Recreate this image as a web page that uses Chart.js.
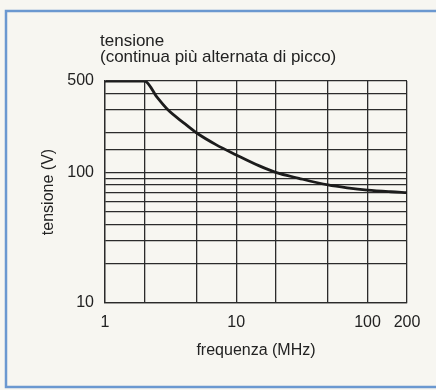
<!DOCTYPE html>
<html>
<head>
<meta charset="utf-8">
<script src="https://cdn.jsdelivr.net/npm/chart.js@4.4.1/dist/chart.umd.min.js"></script>
<style>
  html, body { margin: 0; padding: 0; background: #f7f6f1; }
  #wrap { width: 436px; height: 390px; position: relative; }
</style>
</head>
<body>
<div id="wrap"><canvas id="chart" width="436" height="390"></canvas></div>
<script>
// frequency (MHz) vs max voltage (V), log-log
const freqMHz = [1, 2, 2.5, 3, 4, 5, 7, 10, 15, 20, 30, 50, 70, 100, 150, 200];
const voltV = [500, 500, 374, 302, 238, 200, 163, 136, 112, 100, 90, 80, 76, 73, 71, 70];

const xGrid = [1, 2, 5, 10, 20, 50, 100, 200];
const xLabels = [1, 10, 100, 200];
const yLabels = [10, 100, 500];

const captionLines = ["tensione", "(continua più alternata di picco)"];

const FONT = "'Liberation Sans', Arial, Helvetica, sans-serif";
const INK = "#222";

// blue frame + two-line caption above the plot
const framePlugin = {
  id: "frame",
  beforeDraw(chart) {
    const ctx = chart.ctx;
    ctx.save();
    ctx.fillStyle = "#f7f6f1";
    ctx.fillRect(0, 0, chart.width, chart.height);
    ctx.strokeStyle = "#6b98d0";
    ctx.lineWidth = 2.5;
    ctx.beginPath();
    ctx.moveTo(436, 11);
    ctx.lineTo(6, 11);
    ctx.lineTo(6, 387);
    ctx.lineTo(436, 387);
    ctx.stroke();
    ctx.restore();
  },
  afterDraw(chart) {
    const ctx = chart.ctx;
    ctx.save();
    ctx.fillStyle = INK;
    ctx.font = "17px " + FONT;
    ctx.textBaseline = "middle";
    ctx.fillText(captionLines[0], 100, 41);
    ctx.fillText(captionLines[1], 100, 57);
    ctx.restore();
  }
};

new Chart(document.getElementById("chart"), {
  type: "line",
  data: {
    datasets: [{
      data: freqMHz.map((f, i) => ({ x: f, y: voltV[i] })),
      borderColor: "#1c1c1c",
      borderWidth: 2.8,
      pointRadius: 0,
      cubicInterpolationMode: "monotone",
      fill: false
    }]
  },
  options: {
    responsive: false,
    animation: false,
    layout: { padding: { left: 30, right: 29, top: 81, bottom: 0 } },
    plugins: { legend: { display: false }, tooltip: { enabled: false } },
    scales: {
      x: {
        type: "logarithmic",
        min: 1,
        max: 200,
        afterBuildTicks: (scale) => { scale.ticks = xGrid.map(v => ({ value: v })); },
        afterFit: (scale) => { scale.height = 87; },
        grid: { color: "#2b2b2b", lineWidth: 1.3, drawTicks: false },
        border: { color: "#2b2b2b", width: 1.3 },
        ticks: {
          autoSkip: false,
          maxRotation: 0,
          padding: 10,
          color: INK,
          font: { family: FONT, size: 16 },
          callback: (v) => xLabels.includes(v) ? String(v) : ""
        },
        title: {
          display: true,
          text: "frequenza (MHz)",
          color: INK,
          font: { family: FONT, size: 16 },
          padding: { top: 0, bottom: 30 }
        }
      },
      y: {
        type: "logarithmic",
        min: 10,
        max: 500,
        afterFit: (scale) => { scale.width = 75; },
        grid: { color: "#2b2b2b", lineWidth: 1.3, drawTicks: false },
        border: { color: "#2b2b2b", width: 1.3 },
        ticks: {
          autoSkip: false,
          padding: 11,
          color: INK,
          font: { family: FONT, size: 16 },
          callback: (v) => yLabels.includes(v) ? String(v) : ""
        },
        title: {
          display: true,
          text: "tensione (V)",
          color: INK,
          font: { family: FONT, size: 16 },
          padding: { top: 9, bottom: 0 }
        }
      }
    }
  },
  plugins: [framePlugin]
});
</script>
</body>
</html>
